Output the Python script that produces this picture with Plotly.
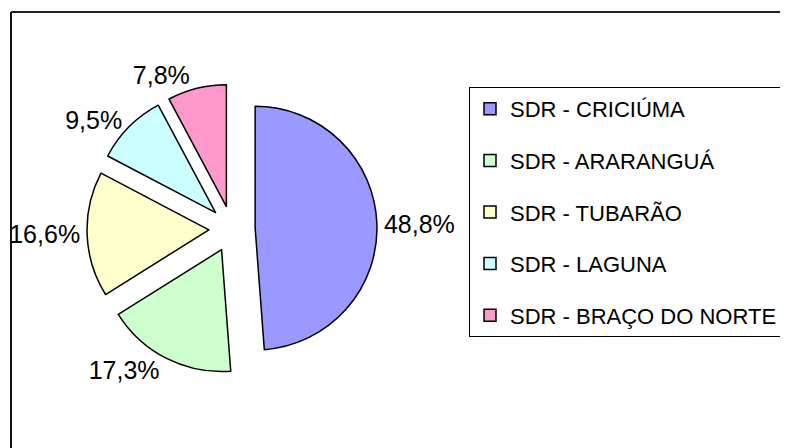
import plotly.graph_objects as go

categories = ["SDR - CRICIÚMA", "SDR - ARARANGUÁ", "SDR - TUBARÃO", "SDR - LAGUNA", "SDR - BRAÇO DO NORTE"]
values = [48.8, 17.3, 16.6, 9.5, 7.8]
value_labels = ["48,8%", "17,3%", "16,6%", "9,5%", "7,8%"]
colors = ["#9999FF", "#CCFFCC", "#FFFFCC", "#CCFFFF", "#FF99CC"]

FONT = "Liberation Sans, Arial, sans-serif"

# page body has an 8px margin; figure is sized to fit the window
W, H = 780, 440

fig = go.Figure()

fig.add_trace(go.Pie(
    labels=categories,
    values=values,
    text=value_labels,
    textinfo="text",
    textposition="outside",
    outsidetextfont=dict(size=25, color="black", family=FONT),
    marker=dict(colors=colors, line=dict(color="black", width=1.5)),
    sort=False,
    direction="clockwise",
    rotation=0,
    pull=[0.19] * len(values),
    showlegend=False,
    hoverinfo="label+percent",
    domain=dict(x=[79 / W, 369 / W], y=[1 - 366 / H, 1 - 76 / H]),
))

for i, (cat, col) in enumerate(zip(categories, colors)):
    fig.add_trace(go.Scatter(
        x=[None], y=[None], mode="markers", name=cat,
        legendgroup=f"g{i}",
        marker=dict(symbol="square", size=12, color=col, line=dict(color="black", width=1.5)),
        hoverinfo="skip",
    ))

fig.update_xaxes(visible=False)
fig.update_yaxes(visible=False)

fig.update_layout(
    width=W, height=H,
    margin=dict(l=0, r=0, t=0, b=0, autoexpand=False),
    paper_bgcolor="white", plot_bgcolor="white",
    font=dict(family=FONT, color="black"),
    legend=dict(
        x=461 / W, y=1 - 79 / H, xanchor="left", yanchor="top",
        bordercolor="black", borderwidth=1,
        font=dict(size=22, family=FONT, color="black"),
        tracegroupgap=20,
        traceorder="grouped",
        itemclick=False, itemdoubleclick=False,
    ),
    shapes=[
        dict(type="line", xref="paper", yref="paper", x0=3 / W, x1=1, y0=1 - 4 / H, y1=1 - 4 / H,
             line=dict(color="#222222", width=2)),
        dict(type="line", xref="paper", yref="paper", x0=3 / W, x1=3 / W, y0=0, y1=1 - 4 / H,
             line=dict(color="#111111", width=2)),
    ],
)

fig.write_html("out.html")
